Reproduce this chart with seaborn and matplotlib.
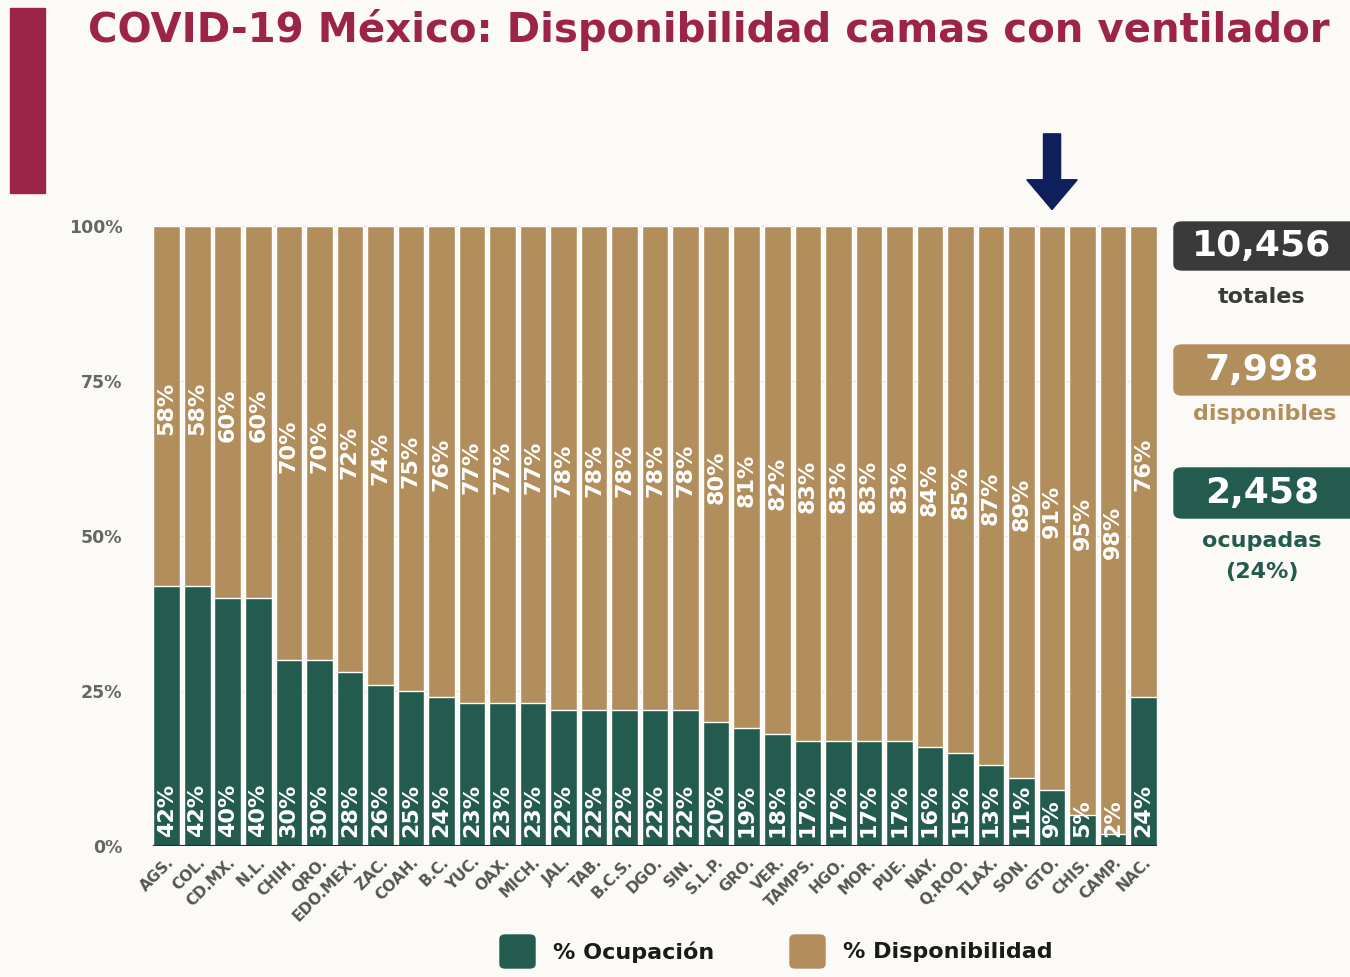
import numpy as np
import pandas as pd
import seaborn as sns
import matplotlib.pyplot as plt
from matplotlib.patches import FancyBboxPatch, FancyArrow, Rectangle

# datos
estados = ['AGS.', 'COL.', 'CD.MX.', 'N.L.', 'CHIH.', 'QRO.', 'EDO.MEX.', 'ZAC.', 'COAH.', 'B.C.',
           'YUC.', 'OAX.', 'MICH.', 'JAL.', 'TAB.', 'B.C.S.', 'DGO.', 'SIN.', 'S.L.P.', 'GRO.',
           'VER.', 'TAMPS.', 'HGO.', 'MOR.', 'PUE.', 'NAY.', 'Q.ROO.', 'TLAX.', 'SON.', 'GTO.',
           'CHIS.', 'CAMP.', 'NAC.']
ocupacion = [42, 42, 40, 40, 30, 30, 28, 26, 25, 24, 23, 23, 23, 22, 22, 22, 22, 22, 20, 19,
             18, 17, 17, 17, 17, 16, 15, 13, 11, 9, 5, 2, 24]
disponibilidad = [58, 58, 60, 60, 70, 70, 72, 74, 75, 76, 77, 77, 77, 78, 78, 78, 78, 78, 80, 81,
                  82, 83, 83, 83, 83, 84, 85, 87, 89, 91, 95, 98, 76]
totales = '10,456'
disponibles = '7,998'
ocupadas = '2,458'
pct_ocupadas = '(24%)'

VERDE = '#235B4E'
ORO = '#B38E5D'
GUINDA = '#9D2449'
FONDO = '#FCFAF6'

df = pd.DataFrame({'estado': estados, 'ocup': ocupacion, 'disp': disponibilidad})
df['total'] = df['ocup'] + df['disp']

sns.set_style('white')
plt.rcParams['font.family'] = ['DejaVu Sans']

fig = plt.figure(figsize=(13.5, 9.77), dpi=100, facecolor=FONDO)
ax = fig.add_axes([0.1133, 0.134, 0.744, 0.635])
ax.set_facecolor(FONDO)

# barras apiladas: disponibilidad como total, ocupación encima
sns.barplot(data=df, x='estado', y='total', color=ORO, width=0.87, saturation=1, ax=ax, zorder=2)
sns.barplot(data=df, x='estado', y='ocup', color=VERDE, width=0.87, saturation=1, ax=ax, zorder=3)

ax.set_ylim(0, 100)
ax.set_xlim(-0.45, len(estados) - 0.55)
ax.set_yticks([0, 25, 50, 75, 100])
ax.set_yticklabels(['0%', '25%', '50%', '75%', '100%'], fontsize=12.5, fontweight='bold', color='#666666')
ax.tick_params(axis='y', length=0, pad=22)
ax.tick_params(axis='x', length=0, pad=6)
ax.set_xticks(range(len(estados)))
ax.set_xticklabels(estados, rotation=45, ha='right', rotation_mode='anchor',
                   fontsize=11, fontweight='semibold', color='#555555')
ax.set_xlabel('')
ax.set_ylabel('')
for s in ax.spines.values():
    s.set_visible(False)
ax.grid(axis='y', color='#E6E0D6', lw=1, zorder=0)
ax.axhline(0, color='#2A2A2A', lw=1.5, zorder=4)

# etiquetas dentro de las barras
for i, (o, d) in enumerate(zip(ocupacion, disponibilidad)):
    ax.text(i, 1.4, f'{o}%', rotation=90, ha='center', va='bottom', color='white',
            fontsize=16, fontweight='bold', zorder=5)
    ax.text(i, o + d / 2 - 0.5, f'{d}%', rotation=90, ha='center', va='center', color='white',
            fontsize=16, fontweight='bold', zorder=5)

# flecha sobre GTO.
ax.add_patch(FancyArrow(estados.index('GTO.'), 114.8, 0, -12.2, width=0.56, head_width=1.65,
                        head_length=4.8, length_includes_head=True, color='#0F1F5C', clip_on=False))

# título y barra lateral
fig.patches.append(Rectangle((10 / 1350, 1 - 193 / 977), 35 / 1350, 185 / 977,
                             transform=fig.transFigure, color=GUINDA, zorder=1))
fig.text(88 / 1350, 1 - 30 / 977, 'COVID-19 México: Disponibilidad camas con ventilador',
         fontsize=29, fontweight='bold', color=GUINDA, va='center', ha='left')

# panel derecho
def caja(y0, y1, color, texto):
    fig.patches.append(FancyBboxPatch((1174 / 1350, 1 - y1 / 977), 200 / 1350, (y1 - y0) / 977,
                                      boxstyle='round,pad=0,rounding_size=0.006',
                                      transform=fig.transFigure, color=color))
    fig.text(1262 / 1350, 1 - (y0 + y1) / 2 / 977, texto, fontsize=26, fontweight='bold',
             color='white', ha='center', va='center')

caja(222, 270, '#3A3A3A', totales)
fig.text(1262 / 1350, 1 - 297 / 977, 'totales', fontsize=16, fontweight='bold', color='#3A3A3A',
         ha='center', va='center')
caja(345, 395, ORO, disponibles)
fig.text(1265 / 1350, 1 - 414 / 977, 'disponibles', fontsize=16, fontweight='bold', color=ORO,
         ha='center', va='center')
caja(468, 518, VERDE, ocupadas)
fig.text(1262 / 1350, 1 - 541 / 977, 'ocupadas', fontsize=16, fontweight='bold', color=VERDE,
         ha='center', va='center')
fig.text(1262 / 1350, 1 - 572 / 977, pct_ocupadas, fontsize=16, fontweight='bold', color=VERDE,
         ha='center', va='center')

# leyenda
for x0, color, texto in [(500, VERDE, '% Ocupación'), (790, ORO, '% Disponibilidad')]:
    fig.patches.append(FancyBboxPatch((x0 / 1350, 1 - 968 / 977), 35 / 1350, 33 / 977,
                                      boxstyle='round,pad=0,rounding_size=0.004',
                                      transform=fig.transFigure, color=color))
    fig.text((x0 + 53) / 1350, 1 - 952 / 977, texto, fontsize=16, fontweight='bold',
             color='#1A1A1A', ha='left', va='center')

fig.savefig('out.png', dpi=100, facecolor=FONDO)
